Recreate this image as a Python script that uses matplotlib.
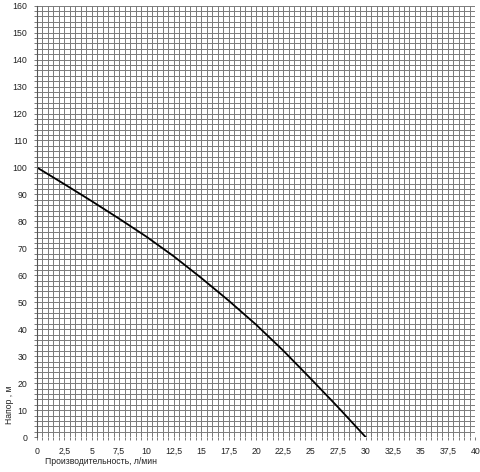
import numpy as np
import matplotlib.pyplot as plt
from matplotlib.ticker import MultipleLocator

# Head vs flow curve
flow = [0, 2.5, 5, 7.5, 10, 12.5, 15, 17.5, 20, 22.5, 25, 27.5, 30]
head = [100, 93.8, 87.5, 81, 74.3, 67, 59, 50.6, 41.7, 32, 21.6, 11, 0]

x_ticks = [0, 2.5, 5, 7.5, 10, 12.5, 15, 17.5, 20, 22.5, 25, 27.5, 30, 32.5, 35, 37.5, 40]
x_tick_labels = ["0", "2,5", "5", "7,5", "10", "12,5", "15", "17,5", "20",
                 "22,5", "25", "27,5", "30", "32,5", "35", "37,5", "40"]
y_ticks = list(range(0, 161, 10))

plt.rcParams['font.family'] = ['Liberation Sans', 'DejaVu Sans']

fig = plt.figure(figsize=(4.8, 4.72), dpi=100)
ax = fig.add_axes([0.077, 0.074, 0.913, 0.914])

ax.set_xlim(0, 40)
ax.set_ylim(0, 160)

# fine grid: 0.5 on x, 2 on y
ax.xaxis.set_minor_locator(MultipleLocator(0.5))
ax.yaxis.set_minor_locator(MultipleLocator(2))
ax.grid(True, which='both', color='#7a7a7a', linewidth=0.7)
ax.set_axisbelow(True)

ax.plot(flow, head, color='black', linewidth=1.3)

ax.set_xticks(x_ticks)
ax.set_xticklabels(x_tick_labels)
ax.set_yticks(y_ticks)
ax.tick_params(axis='both', which='both', length=2.5, width=0.7, color='#7a7a7a',
               labelsize=6.3, labelcolor='#222222', pad=4.5)

for s in ['top', 'right', 'bottom']:
    ax.spines[s].set_visible(False)
ax.spines['left'].set_color('#555555')
ax.spines['left'].set_linewidth(0.8)

fig.text(0.094, 0.023, "Производительность, л/мин", fontsize=6.2, color='#222222',
         ha='left', va='center')
fig.text(0.019, 0.142, "Напор , м", fontsize=6.2, color='#222222', rotation=90,
         ha='center', va='center')

fig.savefig("out.png", dpi=100)
